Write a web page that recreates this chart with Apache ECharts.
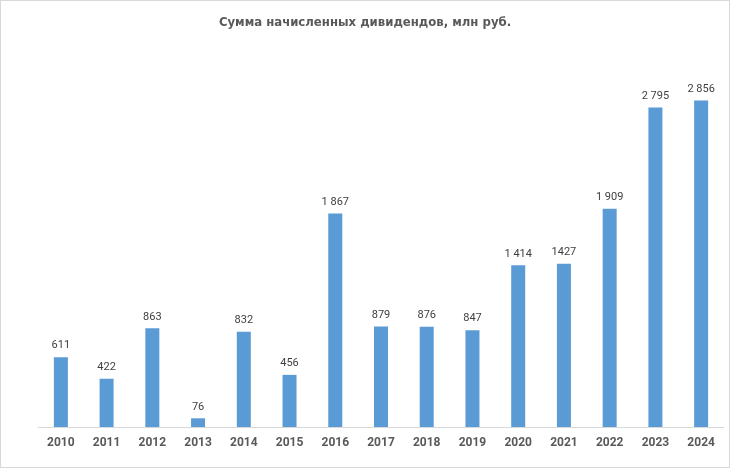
<!DOCTYPE html>
<html><head><meta charset="utf-8">
<script src="https://cdn.jsdelivr.net/npm/echarts@6/dist/echarts.min.js"></script>
<style>html,body{margin:0;padding:0;background:#fff}#c{width:730px;height:468px;box-sizing:border-box;border:1px solid #d9d9d9}</style>
</head><body><div id="c"></div>
<script>
const years = ['2010','2011','2012','2013','2014','2015','2016','2017','2018','2019','2020','2021','2022','2023','2024'];
const dividends = [611,422,863,76,832,456,1867,879,876,847,1414,1427,1909,2795,2856];
const valueLabels = ['611','422','863','76','832','456','1 867','879','876','847','1 414','1427','1 909','2 795','2 856'];
const chart = echarts.init(document.getElementById('c'));
chart.setOption({
  animation:false,
  title:{text:'Сумма начисленных дивидендов, млн руб.',left:'center',top:10,
    textStyle:{fontFamily:'"DejaVu Sans Condensed","Liberation Sans Narrow",sans-serif',fontSize:13,fontWeight:'bold',color:'#595959'}},
  grid:{left:37,right:5,top:83,bottom:40},
  xAxis:{type:'category',data:years,
    axisLine:{lineStyle:{color:'#d9d9d9'}},axisTick:{show:false},
    axisLabel:{color:'#595959',fontSize:12,fontWeight:'bold',fontFamily:'Roboto, sans-serif',margin:10}},
  yAxis:{type:'value',min:0,max:3000,show:false,splitLine:{show:false}},
  series:[{type:'bar',data:dividends,barWidth:14,itemStyle:{color:'#5b9bd5'},
    label:{show:true,position:'top',distance:6,color:'#404040',fontSize:11,fontFamily:'Roboto, sans-serif',
      formatter:p=>valueLabels[p.dataIndex]}}]
});
</script></body></html>
